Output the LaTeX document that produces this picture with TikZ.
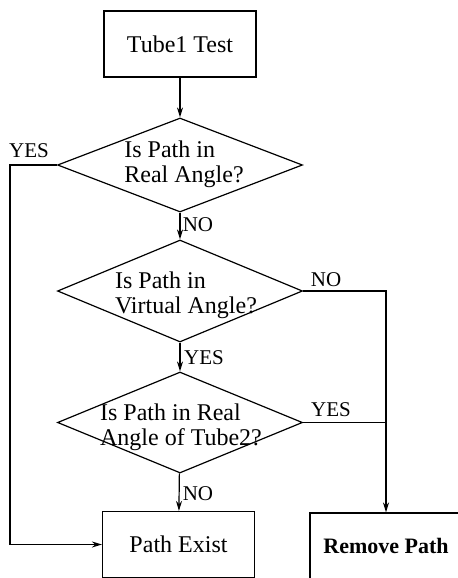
\documentclass[tikz,border=0pt]{standalone}
\usepackage{fontspec}
\setmainfont{Liberation Serif}
\usetikzlibrary{shapes.geometric,arrows.meta}
\begin{document}
\begin{tikzpicture}[x=0.5pt,y=-0.5pt,line width=0.6pt,>={Stealth[length=5pt,width=3pt]},
    box/.style={draw,rectangle,minimum width=76pt,minimum height=33pt,inner sep=0pt,font=\fontsize{12}{14}\selectfont},
    decision/.style={draw,diamond,inner sep=0pt,minimum width=122.5pt},
    question/.style={align=left,inner sep=0pt,font=\fontsize{12}{12.5}\selectfont},
    answer/.style={inner sep=0pt,font=\fontsize{10.5}{12}\selectfont}]
                \useasboundingbox (0,0) rectangle (458,578);
                \clip (0,0) rectangle (458,578);
                \node[box] (tube) at (180,44) {Tube1 Test};
                \node[decision,minimum height=47pt] (d1) at (180,165) {};
                \node[decision,minimum height=51pt] (d2) at (180,291) {};
                \node[decision,minimum height=50.5pt] (d3) at (180,422.5) {};
                \node[box] (exist) at (178.5,544.5) {Path Exist};
                \node[box,font=\fontsize{11}{13}\selectfont\bfseries] (remove) at (386,546) {Remove Path};
                \node[question] (q1) at (184,164) {Is Path in\\Real Angle?};
                \node[question] (q2) at (186,295) {Is Path in\\Virtual Angle?};
                \node[question] (q3) at (181,427) {Is Path in Real\\Angle of Tube2?};
                \coordinate (yesL) at (10,165);
                \coordinate (noR) at (386,291);
                \coordinate (yesR) at (386,422.5);
                \draw[->] (tube) -- (d1);
                \draw[->] (d1) -- (d2);
                \draw[->] (d2) -- (d3);
                \draw[->] (d3) -- (exist);
                \draw[->] (d1.west) -- (yesL) |- (exist.west);
                \draw[->] (d2.east) -- (noR) -- (remove.north);
                \draw (d3.east) -- (yesR);
                \node[answer] (a1) at (29,151) {YES};
                \node[answer] (a2) at (198,225) {NO};
                \node[answer] (a3) at (326,280) {NO};
                \node[answer] (a4) at (204,358) {YES};
                \node[answer] (a5) at (331,410) {YES};
                \node[answer] (a6) at (198,494) {NO};
                \end{tikzpicture}
\end{document}
